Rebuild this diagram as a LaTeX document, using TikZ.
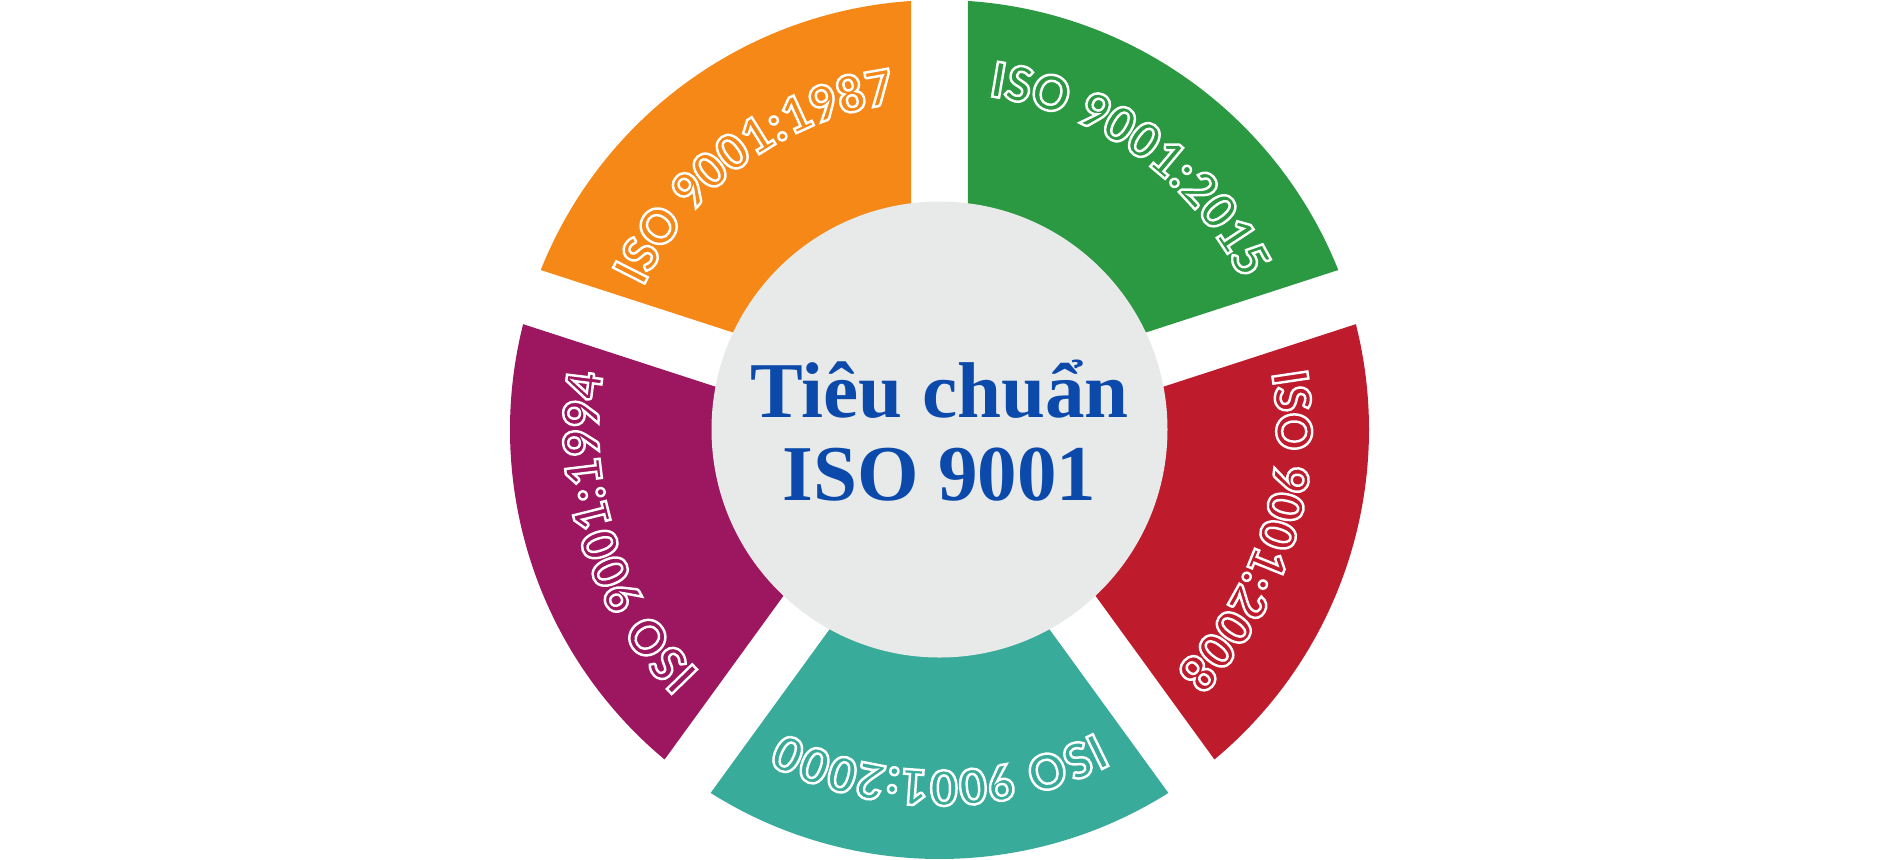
\documentclass[tikz,border=0pt]{standalone}
\usepackage{fontspec}
\usetikzlibrary{decorations.text}
\newfontfamily\labelfont{Carlito}
\newfontfamily\titlefont{Liberation Serif}
\newcommand{\labelsize}{\labelfont\bfseries\fontsize{15.5}{18}\selectfont}
% hollow letters: stroke the glyphs, do not fill them
\newcommand{\outlineon}{\special{pdf:literal direct 1 Tr 0.7 w}}
\newcommand{\outlineoff}{\special{pdf:literal direct 0 Tr}}
\definecolor{isoorange}{HTML}{F58816}
\definecolor{isogreen}{HTML}{2B9842}
\definecolor{isored}{HTML}{BE1C2D}
\definecolor{isoteal}{HTML}{39AB9A}
\definecolor{isopurple}{HTML}{9C1760}
\definecolor{diskgray}{HTML}{E8EAE9}
\definecolor{titleblue}{HTML}{0B4AAB}
\tikzset{sector/.style={fill=#1},
	centre disk/.style={circle,fill=diskgray,minimum size=4.56cm,inner sep=0pt},
	title text/.style={text=titleblue,font=\titlefont\bfseries\fontsize{22.5}{24}\selectfont,anchor=base,inner sep=0pt},
}
\newcommand{\sectorlabel}[3]{%
	\path[decorate,decoration={text along path,text color=white,text align=center,text={|\labelsize|#2}}]
	({#1+40}:#3) arc[start angle=#1+40,end angle=#1-40,radius=#3];
}

\begin{document}
\begin{tikzpicture}
	\useasboundingbox (-9.395,-4.295) rectangle (9.405,4.295);
	
	\foreach \c/\col in {126/isoorange,54/isogreen,-18/isored,-90/isoteal,198/isopurple}
	\fill[sector=\col] (\c:0.485) -- ({\c-32.2}:4.295) arc[start angle=\c-32.2,end angle=\c+32.2,radius=4.295] -- cycle;
	
	\node[centre disk] (disk) at (0,0) {};
	\node[title text] (line one) at (0,0.125) {Tiêu chuẩn};
	\node[title text] (line two) at (0,-0.705) {ISO 9001};
	
	\outlineon
	\sectorlabel{126}{ISO 9001:1987}{3.29}
	\sectorlabel{54}{ISO 9001:2015}{3.37}
	\sectorlabel{-18}{ISO 9001:2008}{3.37}
	\sectorlabel{-90}{ISO 9001:2000}{3.41}
	\sectorlabel{198}{ISO 9001:1994}{3.41}
	\outlineoff
\end{tikzpicture}
\end{document}
